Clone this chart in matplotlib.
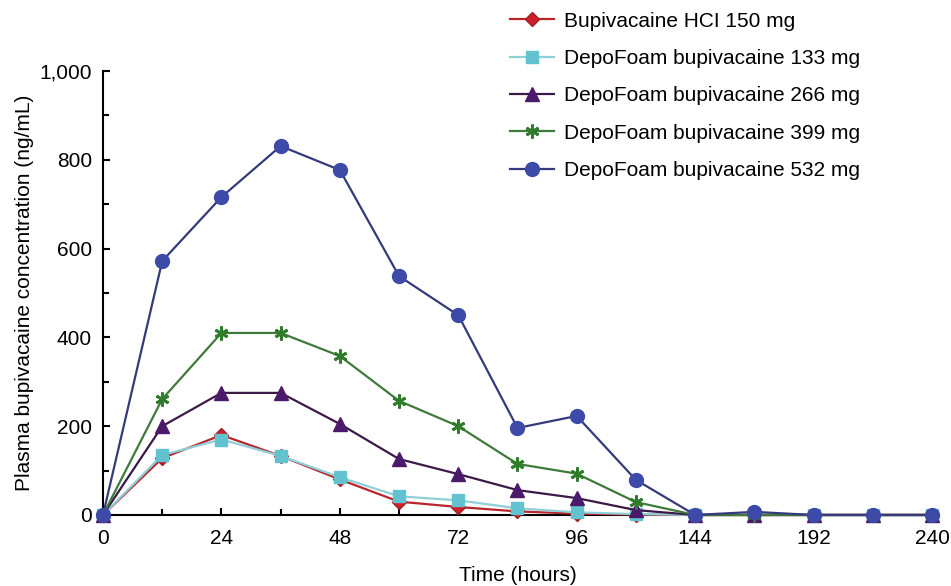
import numpy as np
import matplotlib
matplotlib.use("Agg")
import matplotlib.pyplot as plt
from matplotlib.ticker import FuncFormatter, FixedLocator

plt.rcParams['font.family'] = ['Liberation Sans', 'DejaVu Sans']

# sampling times (hours)
hours = [0, 12, 24, 36, 48, 60, 72, 84, 96, 120, 144, 168, 192, 216, 240]

# plasma concentration (ng/mL)
hcl_150 = [0, 128, 180, 133, 80, 30, 18, 8, 3, 1, 0, 0, 0, 0, 0]
depo_133 = [0, 135, 170, 133, 85, 42, 33, 15, 6, 2, 0, 0, 0, 0, 0]
depo_266 = [0, 200, 275, 275, 205, 126, 92, 56, 38, 11, 0, 0, 0, 0, 0]
depo_399 = [0, 261, 410, 410, 358, 257, 200, 115, 93, 29, 0, 0, 0, 0, 0]
depo_532 = [0, 572, 716, 831, 777, 538, 450, 196, 223, 79, 0, 7, 0, 0, 0]

labels = [
    "Bupivacaine HCI 150 mg",
    "DepoFoam bupivacaine 133 mg",
    "DepoFoam bupivacaine 266 mg",
    "DepoFoam bupivacaine 399 mg",
    "DepoFoam bupivacaine 532 mg",
]

major_ticks = [0, 24, 48, 72, 96, 144, 192, 240]
minor_ticks = [12, 36, 60, 84, 120, 168, 216]


# the time axis is compressed after 96 h (one tick = 48 h)
def fwd(t):
    return np.interp(t, [0, 96, 240], [0, 96, 168])


def inv(p):
    return np.interp(p, [0, 96, 168], [0, 96, 240])


fig = plt.figure(figsize=(9.51, 5.86), dpi=100)
ax = fig.add_axes([0.1083, 0.1212, 0.8717, 0.7576])
ax.set_xscale('function', functions=(fwd, inv))

styles = [
    (hcl_150, dict(color='#b8262c', marker='D', markersize=7, mfc='#d0202a', mec='#a01c22')),
    (depo_133, dict(color='#8fd0d8', marker='s', markersize=9, mfc='#62c2cf', mec='#62c2cf')),
    (depo_266, dict(color='#3b1a48', marker='^', markersize=10, mfc='#4c1a6a', mec='#4c1a6a')),
    (depo_399, dict(color='#3f7a3a', marker=(6, 2, 0), markersize=10, mfc='#2f7d2b', mec='#2f7d2b', mew=2)),
    (depo_532, dict(color='#353a7a', marker='o', markersize=10, mfc='#3d4aa8', mec='#3d4aa8')),
]

for (vals, st), lab in zip(styles, labels):
    ax.plot(hours, vals, lw=1.6, label=lab, clip_on=False, zorder=3, **st)

ax.set_xlim(0, 240)
ax.set_ylim(0, 1000)
ax.xaxis.set_major_locator(FixedLocator(major_ticks))
ax.xaxis.set_minor_locator(FixedLocator(minor_ticks))
ax.set_xticklabels([str(t) for t in major_ticks])
ax.set_yticks([0, 200, 400, 600, 800, 1000])
ax.set_yticks([100, 300, 500, 700, 900], minor=True)
ax.yaxis.set_major_formatter(FuncFormatter(lambda v, p: f'{v:,.0f}'))

for s in ['top', 'right']:
    ax.spines[s].set_visible(False)
for s in ['left', 'bottom']:
    ax.spines[s].set_linewidth(1.5)

ax.tick_params(axis='both', which='both', direction='in', width=1.5, labelsize=15)
ax.tick_params(axis='both', which='major', length=5)
ax.tick_params(axis='both', which='minor', length=4)
ax.tick_params(axis='x', which='major', pad=10)
ax.tick_params(axis='y', which='major', pad=8)

ax.set_xlabel('Time (hours)', fontsize=15, labelpad=13)
ax.set_ylabel('Plasma bupivacaine concentration (ng/mL)', fontsize=15, labelpad=4)

fig.legend(loc='upper left', bbox_to_anchor=(0.521, 1.005), frameon=False,
           fontsize=15, handlelength=2.1, labelspacing=0.88, borderpad=0.2,
           handletextpad=0.5)

plt.savefig('out.png', dpi=100)
